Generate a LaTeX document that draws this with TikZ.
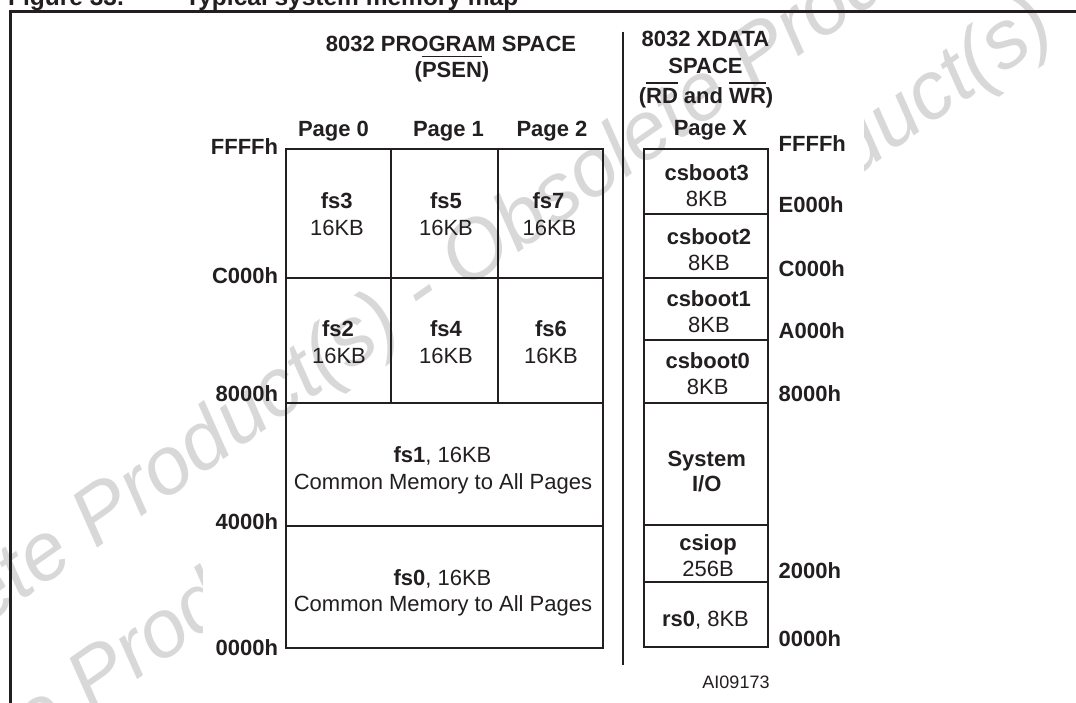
\documentclass[tikz,border=0pt]{standalone}
\usepackage{fontspec}
\setmainfont{Liberation Sans}
\definecolor{ink}{HTML}{231F20}
\definecolor{wmgray}{RGB}{216,216,216}
\newcommand\myovl[1]{\vbox{\hrule height 1.4pt\kern 4.3pt\hbox{#1}}}
\begin{document}
\begin{tikzpicture}[x=1pt,y=-1pt,
  lbl/.style={font=\fontsize{22}{25}\selectfont\bfseries, text=ink, inner sep=0pt, anchor=base},
  val/.style={font=\fontsize{22}{25}\selectfont, text=ink, inner sep=0pt, anchor=base},
  addrL/.style={lbl, anchor=base east},
  addrR/.style={lbl, anchor=base west},
  boxline/.style={draw=ink, line width=2pt},
  wmark/.style={font=\fontsize{82}{90}\selectfont\itshape, text=wmgray, inner sep=0pt, rotate=35}]
\useasboundingbox (0,0) rectangle (1076,702);
\fill[white] (0,0) rectangle (1076,702);
% watermark, rear line (hidden by the figure's white ground)
\node[wmark] (wmB) at (419,457) {Obsolete Product(s) - Obsolete Product(s)};
\fill[white] (203,0) rectangle (864,702);
% watermark, front line
\node[wmark] (wmA) at (423,294) {Obsolete Product(s) - Obsolete Product(s)};
% title (cut at the top edge)
\node[font=\fontsize{24.5}{28}\selectfont\bfseries, text=ink, inner sep=0pt, anchor=base west] (fig) at (8,5) {Figure 33.};
\node[font=\fontsize{24.5}{28}\selectfont\bfseries, text=ink, inner sep=0pt, anchor=base west] (title) at (185,5) {Typical system memory map};
% outer frame
\draw[ink, line width=2.6pt] (10.3,720) -- (10.3,11.3) -- (1100,11.3);
% separator
\draw[ink, line width=2.2pt] (623.3,31.7) -- (623.3,665);
% program space grid
\draw[boxline] (286,149.3) rectangle (603,648);
\draw[boxline] (286,278.3) -- (603,278.3);
\draw[boxline] (286,403.3) -- (603,403.3);
\draw[boxline] (286,526) -- (603,526);
\draw[boxline] (390.7,149.3) -- (390.7,403.3);
\draw[boxline] (497.7,149.3) -- (497.7,403.3);
% xdata column
\draw[boxline] (644,149) rectangle (768.3,647);
\foreach \yy in {214,278.3,340,403.3,524.5,582}
  \draw[boxline] (644,\yy) -- (768.3,\yy);
% headers
\node[lbl] (hp1) at (451,51) {8032 PROGRAM SPACE};
\node[lbl] (hp2) at (452,77) {(\myovl{PSEN})};
\node[lbl] (hx1) at (705.5,46.7) {8032 XDATA};
\node[lbl] (hx2) at (705.5,73) {SPACE};
\node[lbl] (hx3) at (706,103) {(\myovl{RD} and \myovl{WR})};
\node[lbl] (pg0) at (333.5,136) {Page 0};
\node[lbl] (pg1) at (448.5,136) {Page 1};
\node[lbl] (pg2) at (552,136) {Page 2};
\node[lbl] (pgx) at (710.5,135) {Page X};
% left addresses
\node[addrL] (lF) at (278.3,154) {FFFFh};
\node[addrL] (lC) at (278.3,283) {C000h};
\node[addrL] (l8) at (278.3,401.7) {8000h};
\node[addrL] (l4) at (278.3,529) {4000h};
\node[addrL] (l0) at (278.3,655) {0000h};
% right addresses
\node[addrR] (rF) at (778.5,151.5) {FFFFh};
\node[addrR] (rE) at (778.5,212.5) {E000h};
\node[addrR] (rC) at (778.5,276) {C000h};
\node[addrR] (rA) at (778.5,338.5) {A000h};
\node[addrR] (r8) at (778.5,401.5) {8000h};
\node[addrR] (r2) at (778.5,578) {2000h};
\node[addrR] (r0) at (778.5,646.7) {0000h};
% program space cells
\node[lbl] (fs3) at (336.7,208) {fs3};
\node[val] (fs3s) at (337,235.7) {16KB};
\node[lbl] (fs5) at (446,208) {fs5};
\node[val] (fs5s) at (446,235.7) {16KB};
\node[lbl] (fs7) at (548.5,208) {fs7};
\node[val] (fs7s) at (549.5,235.7) {16KB};
\node[lbl] (fs2) at (338,336.7) {fs2};
\node[val] (fs2s) at (339,363) {16KB};
\node[lbl] (fs4) at (446,336.7) {fs4};
\node[val] (fs4s) at (446,363) {16KB};
\node[lbl] (fs6) at (551,336.7) {fs6};
\node[val] (fs6s) at (551,363) {16KB};
\node[val] (fs1) at (442.5,462) {\textbf{fs1}, 16KB};
\node[val] (fs1c) at (443,489) {Common Memory to All Pages};
\node[val] (fs0) at (442.5,585) {\textbf{fs0}, 16KB};
\node[val] (fs0c) at (443,611.7) {Common Memory to All Pages};
% xdata cells
\node[lbl] (cb3) at (706.7,180) {csboot3};
\node[val] (cb3s) at (706.7,206.7) {8KB};
\node[lbl] (cb2) at (709,244) {csboot2};
\node[val] (cb2s) at (709,270) {8KB};
\node[lbl] (cb1) at (708.7,306) {csboot1};
\node[val] (cb1s) at (709,332.7) {8KB};
\node[lbl] (cb0) at (707.7,368) {csboot0};
\node[val] (cb0s) at (707.7,394) {8KB};
\node[lbl] (sys) at (706.7,466) {System};
\node[lbl] (sysio) at (706.7,491.7) {I/O};
\node[lbl] (csiop) at (708,550) {csiop};
\node[val] (csiops) at (708,576) {256B};
\node[val] (rs0) at (705.5,626.7) {\textbf{rs0}, 8KB};
\node[font=\fontsize{18}{21}\selectfont, text=ink, inner sep=0pt, anchor=base] (ai) at (736,688) {AI09173};
\end{tikzpicture}
\end{document}
